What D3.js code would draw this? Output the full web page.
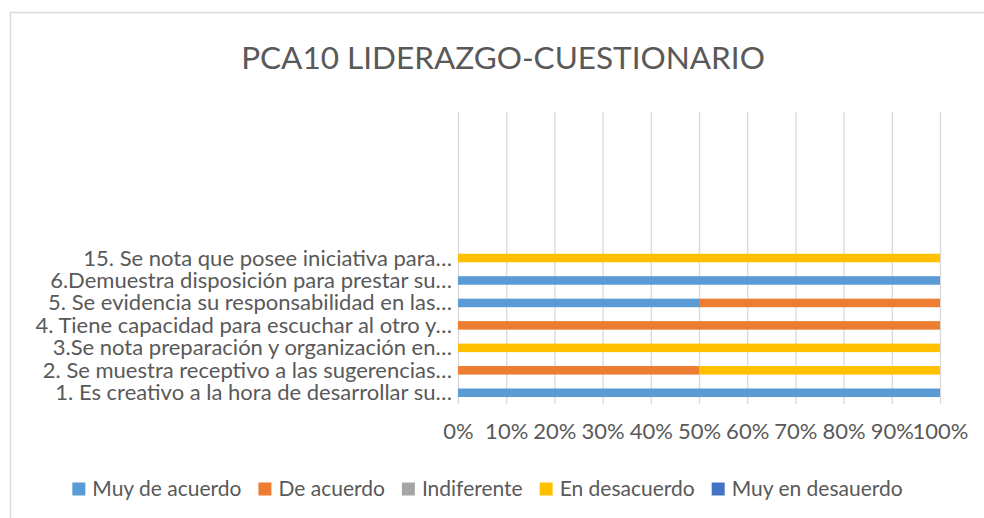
<!DOCTYPE html>
<html>
<head>
<meta charset="utf-8">
<script src="https://cdn.jsdelivr.net/npm/d3@7"></script>
<style>
  body { margin: 0; background: #fff; }
  text { font-family: Lato, "Open Sans", sans-serif; fill: #595959; }
</style>
</head>
<body>
<svg width="984" height="518"></svg>
<script>
const svg = d3.select('svg');

const width = +svg.attr('width');
const height = +svg.attr('height');

const title = 'PCA10 LIDERAZGO-CUESTIONARIO';

// categories listed bottom to top, as the chart stacks them
const categories = [
    '1. Es creativo a la hora de desarrollar su…',
    '2. Se muestra receptivo a las sugerencias…',
    '3.Se nota preparación y organización en…',
    '4. Tiene capacidad para escuchar al otro y…',
    '5. Se evidencia su responsabilidad en las…',
    '6.Demuestra disposición para prestar su…',
    '15. Se nota que posee iniciativa para…'
];

const seriesNames = ['Muy de acuerdo', 'De acuerdo', 'Indiferente', 'En desacuerdo', 'Muy en desauerdo'];
const seriesColors = ['#5B9BD5', '#ED7D31', '#A5A5A5', '#FFC000', '#4472C4'];

const muyDeAcuerdo    = [1, 0,   0, 0, 0.5, 1, 0];
const deAcuerdo       = [0, 0.5, 0, 1, 0.5, 0, 0];
const indiferente     = [0, 0,   0, 0, 0,   0, 0];
const enDesacuerdo    = [0, 0.5, 1, 0, 0,   0, 1];
const muyEnDesacuerdo = [0, 0,   0, 0, 0,   0, 0];

const xTicks = [0, 0.1, 0.2, 0.3, 0.4, 0.5, 0.6, 0.7, 0.8, 0.9, 1];

const seriesValues = [muyDeAcuerdo, deAcuerdo, indiferente, enDesacuerdo, muyEnDesacuerdo];
const data = categories.map((c, i) => {
    const row = { category: c };
    seriesNames.forEach((s, j) => { row[s] = seriesValues[j][i]; });
    return row;
});

// frame of the chart area (runs off the right and bottom edges)
svg.append('rect')
    .attr('x', 10.5)
    .attr('y', 12.5)
    .attr('width', width + 20)
    .attr('height', height + 20)
    .attr('fill', '#fff')
    .attr('stroke', '#d9d9d9')
    .attr('stroke-width', 1.5);

const plotLeft = 458;
const plotRight = 940;
const plotTop = 112;
const plotBottom = 404;
const slot = 22.46;

const xScale = d3.scaleLinear()
    .domain([0, 1])
    .range([plotLeft, plotRight]);

const yScale = d3.scaleBand()
    .domain(categories)
    .range([plotBottom, plotBottom - categories.length * slot])
    .paddingInner(0.62)
    .paddingOuter(0.31);

// gridlines + tick labels
const xAxis = d3.axisBottom(xScale)
    .tickValues(xTicks)
    .tickFormat(d3.format('.0%'))
    .tickSize(-(plotBottom - plotTop))
    .tickPadding(0);

const xAxisG = svg.append('g')
    .attr('transform', `translate(0,${plotBottom})`)
    .call(xAxis);

xAxisG.select('.domain').remove();
xAxisG.selectAll('.tick line')
    .attr('stroke', '#d9d9d9')
    .attr('stroke-width', 1.3);
xAxisG.selectAll('.tick text')
    .attr('dy', null)
    .attr('y', 35)
    .attr('fill', '#595959')
    .style('font-size', '22px')
    .style('font-family', 'Lato, sans-serif');

// stacked bars
const stack = d3.stack().keys(seriesNames);
const stacked = stack(data);

svg.append('g').selectAll('g')
    .data(stacked)
    .enter().append('g')
    .attr('fill', (d, i) => seriesColors[i])
    .selectAll('rect')
    .data(d => d)
    .enter().append('rect')
    .attr('x', d => xScale(d[0]))
    .attr('width', d => xScale(d[1]) - xScale(d[0]))
    .attr('y', d => yScale(d.data.category))
    .attr('height', yScale.bandwidth());

// category labels
svg.append('g').selectAll('text')
    .data(categories)
    .enter().append('text')
    .attr('x', 452)
    .attr('y', d => yScale(d) + yScale.bandwidth() / 2 + 7.5)
    .attr('text-anchor', 'end')
    .style('font-size', '22px')
    .text(d => d);

// title
svg.append('text')
    .attr('x', 503)
    .attr('y', 69)
    .attr('text-anchor', 'middle')
    .style('font-size', '31.5px')
    .text(title);

// legend
const legend = svg.append('g');
const items = legend.selectAll('g')
    .data(seriesNames)
    .enter().append('g');

items.append('rect')
    .attr('width', 13)
    .attr('height', 13)
    .attr('y', -13)
    .attr('fill', (d, i) => seriesColors[i]);

items.append('text')
    .attr('x', 20)
    .attr('y', 0)
    .style('font-size', '21px')
    .text(d => d);

let offset = 0;
items.each(function() {
    const w = 20 + d3.select(this).select('text').node().getComputedTextLength();
    d3.select(this).attr('transform', `translate(${offset},0)`);
    offset += w + 17;
});
const legendWidth = offset - 17;
legend.attr('transform', `translate(${487.5 - legendWidth / 2},495.5)`);
</script>
</body>
</html>
